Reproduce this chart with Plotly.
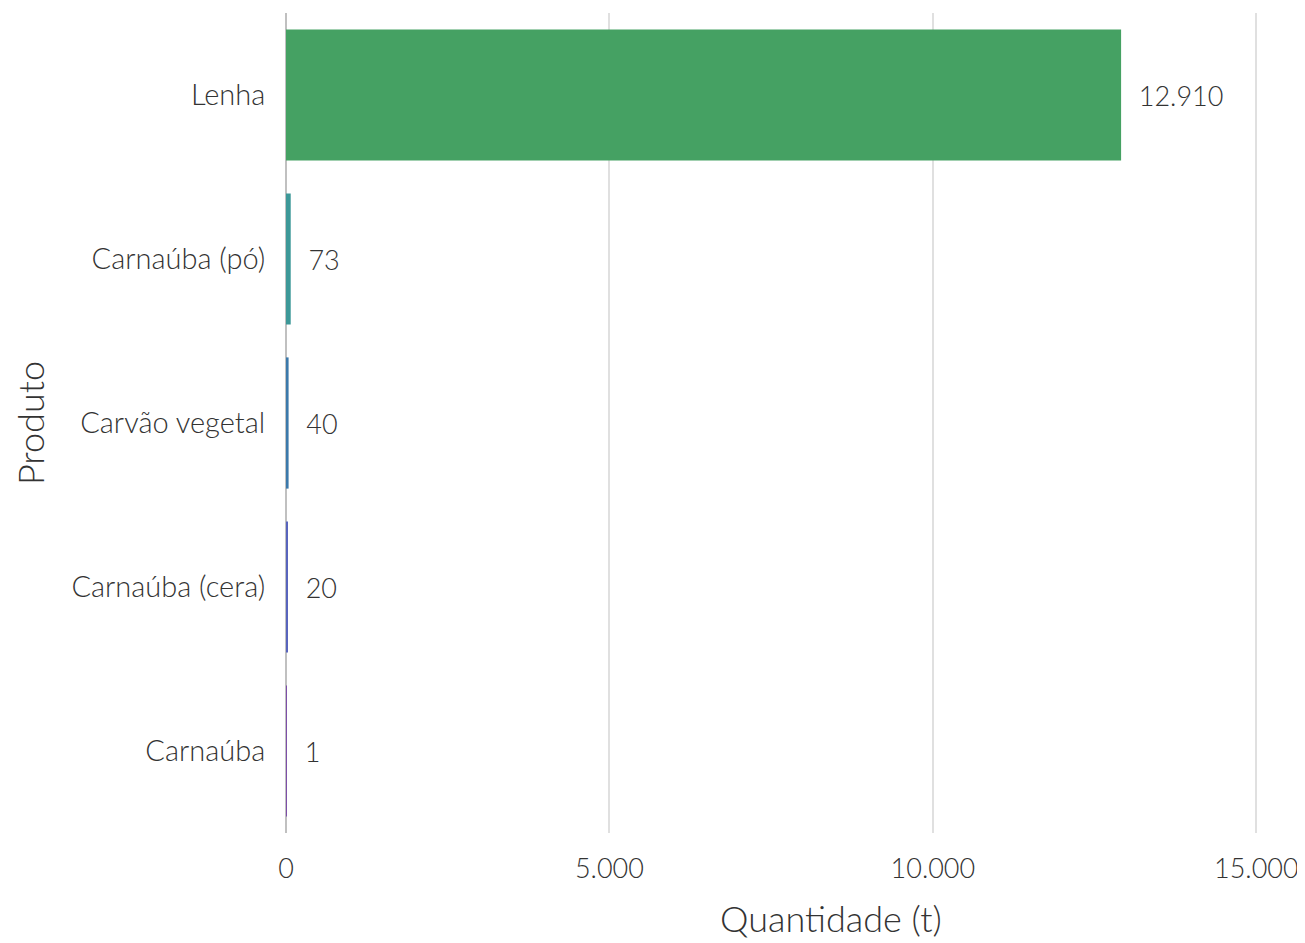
import plotly.graph_objects as go

produtos = ["Lenha", "Carnaúba (pó)", "Carvão vegetal", "Carnaúba (cera)", "Carnaúba"]
quantidades = [12910, 73, 40, 20, 1]
cores = ["#45a163", "#3d9898", "#3b79ab", "#5864bd", "#7d4ea8"]
x_ticks = [0, 5000, 10000, 15000]
x_ticktext = ["0", "5.000", "10.000", "15.000"]

FONT = "Lato"
TXT = "#333333"

fig = go.Figure(go.Bar(
    x=quantidades,
    y=produtos,
    orientation="h",
    marker=dict(color=cores, line=dict(width=0)),
    texttemplate="\u00a0\u00a0%{x:,.0f}",
    textposition="outside",
    textfont=dict(family=FONT, size=27, color=TXT, weight=300),
    cliponaxis=False,
))

fig.update_layout(
    width=1297, height=935,
    paper_bgcolor="white", plot_bgcolor="white",
    separators=",.",
    margin=dict(l=278, r=39, t=5, b=110, autoexpand=False),
    bargap=0.2,
    showlegend=False,
    font=dict(family=FONT, size=29, color=TXT, weight=300),
)
fig.update_xaxes(
    range=[0, 15150], automargin=False,
    tickvals=x_ticks, ticktext=x_ticktext,
    showgrid=True, gridcolor="#e0e0e0", gridwidth=2,
    zeroline=True, zerolinecolor="#c0c0c0", zerolinewidth=2,
    ticks="outside", ticklen=12, tickcolor="rgba(0,0,0,0)",
    tickfont=dict(family=FONT, size=27, color=TXT, weight=300),
)
fig.update_yaxes(
    categoryorder="array", categoryarray=produtos, autorange="reversed",
    automargin=False,
    showgrid=False, zeroline=False,
    ticks="outside", ticklen=14, tickcolor="rgba(0,0,0,0)",
    tickfont=dict(family=FONT, size=29, color=TXT, weight=300),
    title=dict(text="Produto", font=dict(family=FONT, size=36, color=TXT, weight=300), standoff=16),
)
fig.add_annotation(
    text="Quantidade (t)",
    xref="paper", yref="paper", x=0.556, y=0,
    xanchor="center", yanchor="middle", yshift=-85,
    showarrow=False, borderpad=0,
    font=dict(family=FONT, size=36, color=TXT, weight=300),
)

fig.write_html("out.html")
